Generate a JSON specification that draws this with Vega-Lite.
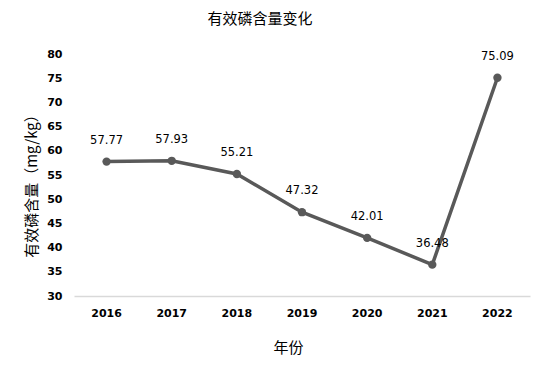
{
  "$schema": "https://vega.github.io/schema/vega-lite/v6.json",
  "width": 456,
  "height": 242,
  "autosize": {"type": "none"},
  "padding": {"left": 74, "top": 54, "right": 18, "bottom": 78},
  "background": "white",
  "title": {
    "text": "有效磷含量变化",
    "font": "Noto Sans CJK SC",
    "fontSize": 15,
    "fontWeight": "normal",
    "color": "#000000",
    "anchor": "middle",
    "dx": -42,
    "offset": 21
  },
  "config": {
    "view": {"stroke": null},
    "font": "Noto Sans CJK SC"
  },
  "data": {
    "values": [
      {"year": "2016", "value": 57.77},
      {"year": "2017", "value": 57.93},
      {"year": "2018", "value": 55.21},
      {"year": "2019", "value": 47.32},
      {"year": "2020", "value": 42.01},
      {"year": "2021", "value": 36.48},
      {"year": "2022", "value": 75.09}
    ]
  },
  "encoding": {
    "x": {
      "field": "year",
      "type": "ordinal",
      "scale": {"type": "band", "paddingInner": 0, "paddingOuter": 0},
      "axis": {
        "title": "年份",
        "titleFont": "Noto Sans CJK SC",
        "titleFontSize": 15,
        "titleFontWeight": "normal",
        "titleColor": "#000000",
        "titleX": 214,
        "titleY": 51,
        "titleBaseline": "middle",
        "labelAngle": 0,
        "labelFont": "DejaVu Sans",
        "labelFontSize": 11,
        "labelFontWeight": "bold",
        "labelColor": "#000000",
        "labelPadding": 11,
        "ticks": false,
        "domainColor": "#d9d9d9",
        "domainWidth": 1.5
      }
    },
    "y": {
      "field": "value",
      "type": "quantitative",
      "scale": {"domain": [30, 80], "nice": false, "zero": false},
      "axis": {
        "title": "有效磷含量（mg/kg）",
        "titleFont": "Noto Sans CJK SC",
        "titleFontSize": 15,
        "titleFontWeight": "normal",
        "titleColor": "#000000",
        "titleAngle": -90,
        "titleX": -43,
        "titleY": 128,
        "titleAlign": "center",
        "titleBaseline": "middle",
        "values": [30, 35, 40, 45, 50, 55, 60, 65, 70, 75, 80],
        "labelFont": "DejaVu Sans",
        "labelFontSize": 11,
        "labelFontWeight": "bold",
        "labelColor": "#000000",
        "labelPadding": 12,
        "ticks": false,
        "domain": false,
        "grid": false
      }
    }
  },
  "layer": [
    {
      "mark": {"type": "line", "color": "#595959", "strokeWidth": 3.5}
    },
    {
      "mark": {"type": "point", "filled": true, "color": "#595959", "size": 70, "opacity": 1}
    },
    {
      "mark": {"type": "text", "dy": -21, "baseline": "middle", "font": "DejaVu Sans", "fontSize": 11.5, "color": "#000000"},
      "encoding": {"text": {"field": "value", "type": "quantitative", "format": ".2f"}}
    }
  ]
}
